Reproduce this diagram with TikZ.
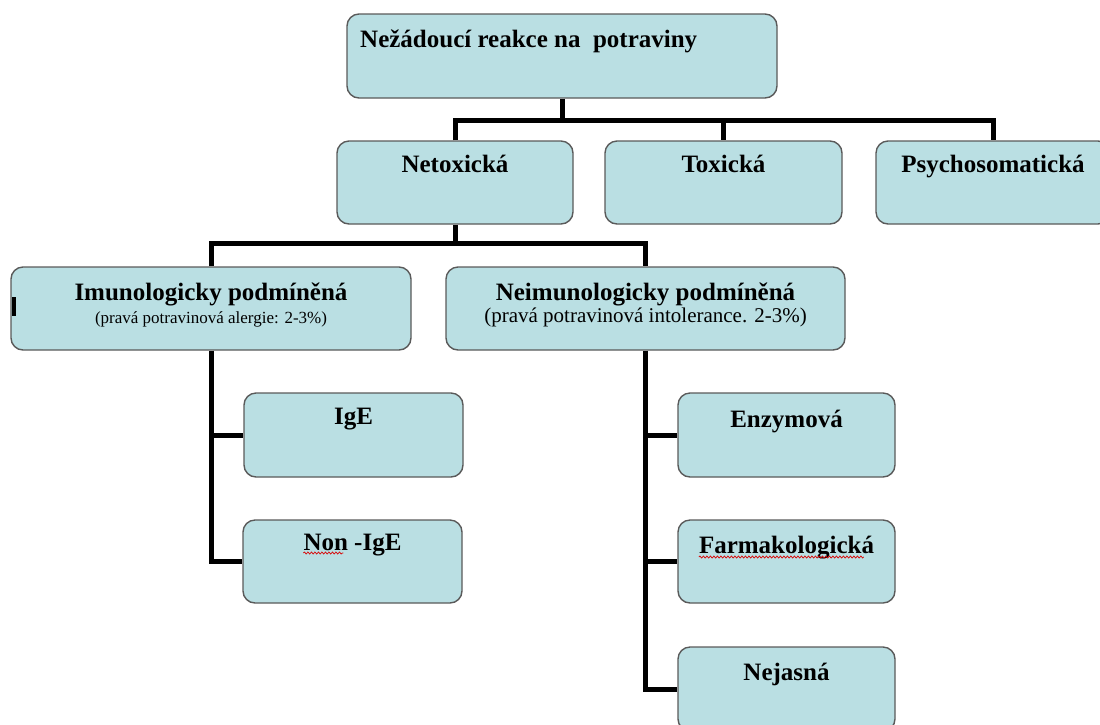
\documentclass[tikz,border=0pt]{standalone}
\usepackage{fontspec}
\setmainfont{Liberation Serif}
\usetikzlibrary{decorations.pathmorphing}
\definecolor{boxfill}{RGB}{186,223,227}
\definecolor{boxline}{RGB}{90,90,90}
\tikzset{
  box/.style={draw=boxline, line width=1.4pt, fill=boxfill, rounded corners=12pt, inner sep=0pt},
  ttl/.style={anchor=base, inner sep=0pt, font=\fontsize{25}{30}\selectfont\bfseries},
  sub/.style={anchor=base, inner sep=0pt, font=\fontsize{#1}{#1}\selectfont},
  conn/.style={line width=5pt, draw=black},
  wavy/.style={draw=red!85!black, line width=0.7pt, decorate, decoration={snake, amplitude=1pt, segment length=3.5pt}}
}
\begin{document}
\begin{tikzpicture}[x=1pt, y=-1pt]
\useasboundingbox (0,0) rectangle (1100,724);
\begin{scope}
\clip (0,0) rectangle (1100,724);
% boxes
\node[box, minimum width=430pt, minimum height=84pt] (top) at (562,56) {};
\node[box, minimum width=236pt, minimum height=83pt] (net) at (455,182.5) {};
\node[box, minimum width=237pt, minimum height=83pt] (tox) at (723.5,182.5) {};
\node[box, minimum width=234pt, minimum height=83pt] (psy) at (993,182.5) {};
\node[box, minimum width=400pt, minimum height=83pt] (imu) at (211,308.5) {};
\node[box, minimum width=399pt, minimum height=83pt] (neimu) at (645.5,308.5) {};
\node[box, minimum width=219pt, minimum height=84pt] (ige) at (353.5,435) {};
\node[box, minimum width=219pt, minimum height=83pt] (nonige) at (352.5,561.5) {};
\node[box, minimum width=217pt, minimum height=84pt] (enz) at (786.5,435) {};
\node[box, minimum width=217pt, minimum height=83pt] (farm) at (786.5,561.5) {};
\node[box, minimum width=217pt, minimum height=84pt] (nej) at (786.5,689) {};
% connectors
\coordinate (b1) at (562,120);
\coordinate (b2) at (455,243);
\draw[conn] (top.south) -- (b1);
\draw[conn] (net.north) -- (net.north |- b1) -- (psy.north |- b1) -- (psy.north);
\draw[conn] (tox.north |- b1) -- (tox.north);
\draw[conn] (net.south) -- (b2);
\draw[conn] (imu.north) -- (imu.north |- b2) -- (neimu.north |- b2) -- (neimu.north);
\draw[conn] (imu.south) |- (nonige.west);
\draw[conn] (imu.south |- ige.west) -- (ige.west);
\draw[conn] (neimu.south) |- (nej.west);
\draw[conn] (neimu.south |- enz.west) -- (enz.west);
\draw[conn] (neimu.south |- farm.west) -- (farm.west);
% texts
\node[ttl, anchor=base west] (topT) at (360,47) {Nežádoucí reakce na\ \ potraviny};
\node[ttl] (netT) at (455,172) {Netoxická};
\node[ttl] (toxT) at (723.5,172) {Toxická};
\node[ttl] (psyT) at (993,172) {Psychosomatická};
\node[ttl] (imuT) at (211,300) {Imunologicky podmíněná};
\node[sub=17] (imuS) at (211,323) {(pravá potravinová alergie: 2-3\%)};
\node[ttl] (neimuT) at (645.5,300) {Neimunologicky podmíněná};
\node[sub=21] (neimuS) at (645.5,322) {(pravá potravinová intolerance. 2-3\%)};
\node[ttl] (igeT) at (353.5,424) {IgE};
\node[ttl] (nonigeT) at (352.5,550) {Non -IgE};
\node[ttl] (enzT) at (786.5,427) {Enzymová};
\node[ttl] (farmT) at (786.5,553) {Farmakologická};
\node[ttl] (nejT) at (786.5,680) {Nejasná};
% spell-check underlines
\draw[wavy] (nonigeT.base west) ++(0,3) -- ++(40,0);
\draw[wavy] (farmT.base west) ++(0,4) -- ++(165,0);
% small mark
\fill[black] (12,297) rectangle (16,316);
\end{scope}
\end{tikzpicture}
\end{document}
